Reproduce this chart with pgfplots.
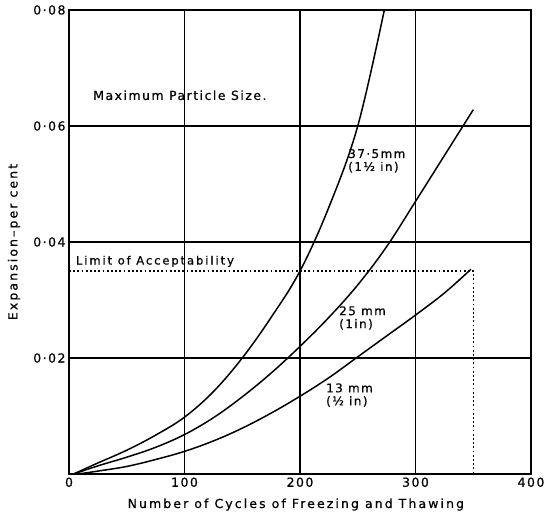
\documentclass[border=0pt]{standalone}
\usepackage{pgfplots}
\pgfplotsset{compat=1.18}
\usepackage{fontspec}
\setmainfont{DejaVu Sans}
\newfontfamily\labelfont[LetterSpace=12, FakeBold=0.6]{DejaVu Sans}
\newfontfamily\widefont[LetterSpace=17, FakeBold=0.6]{DejaVu Sans}

% expansion (per cent) against freeze-thaw cycles, by maximum particle size
\pgfplotstableread{
x    y
4    0
25   0.0019
50   0.0041
75   0.0067
100  0.0098
125  0.0142
150  0.0200
175  0.0270
200  0.0350
225  0.0460
250  0.0600
273  0.0800
}\largest
\pgfplotstableread{
x    y
4    0
25   0.0014
50   0.0029
75   0.0046
100  0.0068
125  0.0097
150  0.0133
175  0.0174
200  0.0220
225  0.0270
250  0.0326
275  0.0392
300  0.0470
325  0.0549
350  0.0628
}\medium
\pgfplotstableread{
x    y
8    0
25   0.0005
50   0.0013
75   0.0025
100  0.0039
125  0.0057
150  0.0079
175  0.0105
200  0.0134
225  0.0166
250  0.0202
275  0.0238
300  0.0274
325  0.0312
348  0.0353
}\smallest

\begin{document}
\begin{tikzpicture}
\begin{axis}[
  scale only axis, width=462bp, height=464bp,
  xmin=0, xmax=400, ymin=0, ymax=0.08,
  xtick={0,100,200,300,400}, xticklabels={0,100,200,300,400},
  ytick={0.02,0.04,0.06,0.08}, yticklabels={0·02,0·04,0·06,0·08},
  scaled y ticks=false,
  major tick length=0pt,
  grid=major, grid style={black, line width=1.4bp},
  axis line style={line width=1.8bp},
  ticklabel style={font=\labelfont\fontsize{12.5}{14}\selectfont},
  xlabel={Number of Cycles of Freezing and Thawing},
  ylabel={Expansion–per cent},
  xlabel style={font=\widefont\fontsize{12.5}{14}\selectfont, at={(axis description cs:0.491,0)}, anchor=base, yshift=-34bp},
  ylabel style={font=\widefont\fontsize{12.5}{14}\selectfont, at={(axis description cs:-0.119,0.5)}, anchor=center},
  clip=false,
]
\coordinate (O) at (rel axis cs:0,0);
\coordinate (T) at (rel axis cs:1,1);

\addplot[black, line width=1.5bp, smooth, tension=0.6] table {\largest};
\addplot[black, line width=1.5bp, smooth, tension=0.6] table {\medium};
\addplot[black, line width=1.5bp, smooth, tension=0.6] table {\smallest};

% limit of acceptability
\addplot[black, line width=1.4bp, dash pattern=on 1.8bp off 2.4bp] coordinates {(0,0.035) (350,0.035) (350,0)};

\node[font=\labelfont\fontsize{12.5}{14}\selectfont] at (axis cs:96,0.0653) {Maximum Particle Size.};
\node[font=\widefont\fontsize{11.5}{12}\selectfont, anchor=south west, inner sep=1bp] at (axis cs:5,0.0355) {Limit of Acceptability};
\node[font=\labelfont\fontsize{12}{13}\selectfont, anchor=west, align=left, inner sep=0pt] at (axis cs:241.6,0.054) {37·5mm\\(1½ in)};
\node[font=\labelfont\fontsize{12}{13}\selectfont, anchor=west, align=left, inner sep=0pt] at (axis cs:233.8,0.0269) {25 mm\\(1in)};
\node[font=\labelfont\fontsize{12}{13}\selectfont, anchor=west, align=left, inner sep=0pt] at (axis cs:222.5,0.0136) {13 mm\\(½ in)};
\end{axis}
\pgfresetboundingbox
\path ([shift={(-69bp,-42bp)}]O) rectangle ([shift={(27bp,10bp)}]T);
\end{tikzpicture}
\end{document}
